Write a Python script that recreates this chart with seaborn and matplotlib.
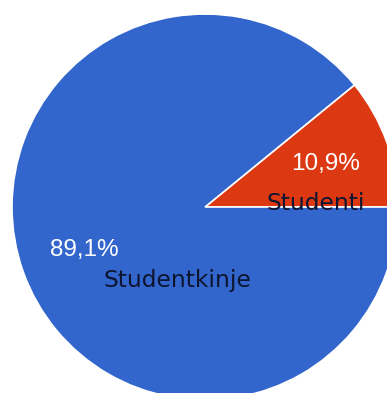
import numpy as np
import matplotlib.pyplot as plt
import seaborn as sns

# data
categories = ["Studenti", "Studentkinje"]
shares = [10.9, 89.1]
pct_labels = ["10,9%", "89,1%"]
colors = ["#DC3912", "#3366CC"]

sns.set_theme(style="white")

fig = plt.figure(figsize=(3.87, 3.93), dpi=100)
ax = fig.add_axes([0, 0, 1, 1])

# pie is drawn in pixel-like data coords so it can run off the right edge
cx, cy, r = 205, 186, 193
wedges, _ = ax.pie(shares, colors=colors, startangle=0, counterclock=True,
                   center=(cx, cy), radius=r, frame=True,
                   wedgeprops=dict(edgecolor="white", linewidth=1.2))
ax.set_xlim(0, 387)
ax.set_ylim(0, 393)
ax.set_aspect("equal")
ax.axis("off")

# label offsets (name relative to percentage), in data px
name_offsets = {"Studenti": (-10, -40), "Studentkinje": (93, -30)}

for w, cat, pct in zip(wedges, categories, pct_labels):
    mid = np.deg2rad((w.theta1 + w.theta2) / 2)
    px = cx + 0.665 * r * np.cos(mid)
    py = cy + 0.665 * r * np.sin(mid)
    ax.text(px, py, pct, ha="center", va="center", color="white",
            fontsize=17.5, family=["Liberation Sans", "DejaVu Sans"])
    dx, dy = name_offsets[cat]
    t = ax.text(px + dx, py + dy, cat, ha="center", va="center",
                color="#0d1530", fontsize=16.8, family=["DejaVu Sans"])
    t.set_clip_path(w)

fig.savefig("out.png", dpi=100, facecolor="white")
